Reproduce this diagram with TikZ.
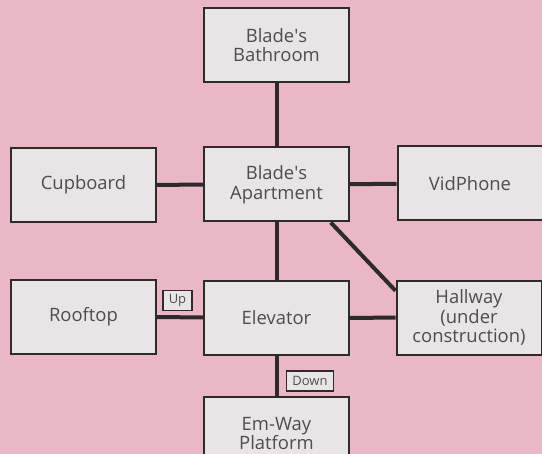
\documentclass[tikz,border=0pt]{standalone}
\usepackage{fontspec}
\setmainfont{Open Sans}
\definecolor{wallpink}{RGB}{233,184,196}
\definecolor{roomgray}{RGB}{231,229,229}
\definecolor{inkdark}{RGB}{46,42,44}
\definecolor{textgray}{RGB}{78,76,76}
\begin{document}
\begin{tikzpicture}[x=1bp, y=-1bp,
  room/.style={draw=inkdark, fill=roomgray, line width=2bp, minimum width=145bp, minimum height=74bp, align=center, text=textgray, font=\fontsize{18.5}{19.5}\selectfont, inner sep=2pt},
  tag/.style={draw=inkdark, fill=roomgray, line width=1.6bp, inner xsep=6bp, inner ysep=1pt, minimum height=20bp, text=textgray, font=\fontsize{13}{14}\selectfont},
  link/.style={draw=inkdark, line width=4bp}]
\fill[wallpink] (0,0) rectangle (542,454);
\useasboundingbox (0,0) rectangle (542,454);
\clip (0,0) rectangle (542,454);
\node[room] (bath) at (276.5,45) {Blade\textquotesingle s\\Bathroom};
\node[room] (apt) at (276.5,184.5) {Blade\textquotesingle s\\Apartment};
\node[room] (cup) at (83.5,185) {Cupboard};
\node[room] (vid) at (470,183.5) {VidPhone};
\node[room] (roof) at (83.5,316.5) {Rooftop};
\node[room] (elev) at (276.5,318) {Elevator};
\node[room] (hall) at (469,317.5) {Hallway\\(under\\construction)};
\node[room] (emway) at (276.5,433.5) {Em-Way\\Platform};
\node[tag] (up) at (177.5,300.5) {Up};
\node[tag] (down) at (310,381) {Down};
\draw[link] (bath) -- (apt);
\draw[link] (cup) -- (apt);
\draw[link] (apt) -- (vid);
\draw[link] (apt) -- (elev);
\draw[link] (apt.-35) -- (hall.160);
\draw[link] (roof) -- (elev);
\draw[link] (elev) -- (hall);
\draw[link] (elev) -- (emway);
\end{tikzpicture}
\end{document}
